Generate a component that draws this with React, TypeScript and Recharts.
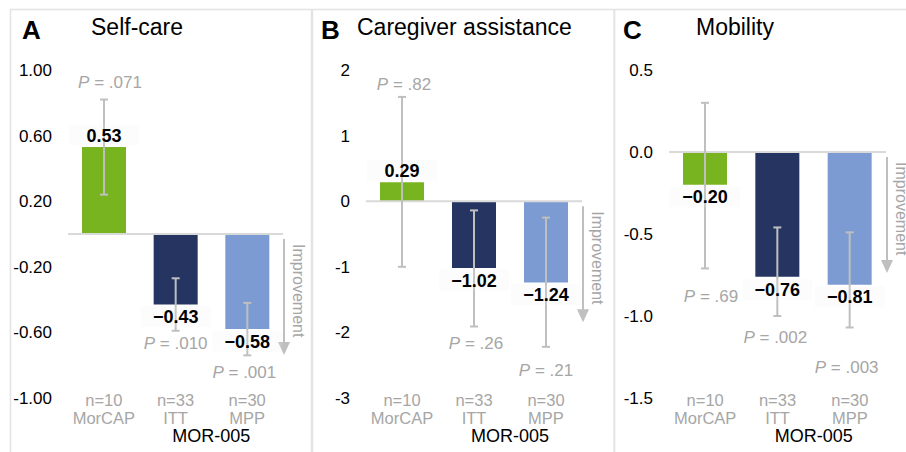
import React from 'react';
import { BarChart, Bar, XAxis, YAxis, ReferenceLine, ErrorBar, Cell } from 'recharts';

// shared categories
const categories = ['MorCAP', 'ITT', 'MPP'];
const sampleSizes = ['n=10', 'n=33', 'n=30'];
const groupLabel = 'MOR-005';

// A: self-care
const selfCareValues = [0.53, -0.43, -0.58];
const selfCareLow = [0.24, -0.59, -0.74];
const selfCareHigh = [0.82, -0.27, -0.42];
const selfCareP = ['.071', '.010', '.001'];
const selfCareTicks = [-1, -0.6, -0.2, 0.2, 0.6, 1];

// B: caregiver assistance
const caregiverValues = [0.29, -1.02, -1.24];
const caregiverLow = [-1.0, -1.91, -2.22];
const caregiverHigh = [1.59, -0.14, -0.25];
const caregiverP = ['.82', '.26', '.21'];
const caregiverTicks = [-3, -2, -1, 0, 1, 2];

// C: mobility
const mobilityValues = [-0.2, -0.76, -0.81];
const mobilityLow = [-0.71, -1.0, -1.07];
const mobilityHigh = [0.3, -0.46, -0.49];
const mobilityP = ['.69', '.002', '.003'];
const mobilityTicks = [-1.5, -1, -0.5, 0, 0.5];

const barColors = ['#78b41f', '#253461', '#7b9bd2'];
const GRAY = '#a6a6a6';
const LINE = '#bfbfbf';
const FONT = '"Liberation Sans", Arial, sans-serif';

type PLayout = { side: 'top' | 'bottom'; gap: number; dx: number };

interface PanelProps {
  left: number;
  width: number;
  margin: { top: number; right: number; bottom: number; left: number };
  yWidth: number;
  values: number[];
  low: number[];
  high: number[];
  pvals: string[];
  ticks: number[];
  tickFmt: (v: number) => string;
  valueGap: number[];
  pLayout: PLayout[];
}

const fmtValue = (v: number) => (v < 0 ? '\u2212' : '') + Math.abs(v).toFixed(2);

const Improvement = ({ viewBox }: any) => {
  if (!viewBox) return null;
  const x = viewBox.x + viewBox.width + 1;
  const y = viewBox.y;
  return (
    <g>
      <line x1={x} y1={y + 5} x2={x} y2={y + 112} stroke={LINE} strokeWidth={2} />
      <path d={`M${x - 6},${y + 108} L${x + 6},${y + 108} L${x},${y + 121} Z`} fill={LINE} />
      <text
        x={x + 9}
        y={y + 10}
        transform={`rotate(90, ${x + 9}, ${y + 10})`}
        fontSize={16}
        fill={GRAY}
        textAnchor="start"
      >
        Improvement
      </text>
    </g>
  );
};

const Panel: React.FC<PanelProps> = (p) => {
  const rows = categories.map((name, i) => ({
    name,
    value: p.values[i],
    err: [p.values[i] - p.low[i], p.high[i] - p.values[i]],
  }));
  const band = (p.width - p.margin.left - p.margin.right - p.yWidth) / categories.length;

  const renderLabel = (props: any) => {
    const { x, y, width, height, index } = props;
    const v = p.values[index];
    const top = Math.min(y, y + height);
    const bottom = Math.max(y, y + height);
    const k = (bottom - top) / Math.abs(v);
    const zeroY = v >= 0 ? bottom : top;
    const py = (d: number) => zeroY - d * k;
    const cx = x + width / 2;
    const gap = p.valueGap[index];
    const ty = v >= 0 ? py(v) - gap : py(v) + gap;
    const pl = p.pLayout[index];
    const pyLabel = pl.side === 'top' ? py(p.high[index]) - pl.gap : py(p.low[index]) + pl.gap;
    return (
      <g>
        <rect x={cx - 35} y={ty - 10.5} width={70} height={21} fill="#ececec" fillOpacity={0.18} />
        <text x={cx} y={ty} dy="0.36em" textAnchor="middle" fontWeight="bold" fontSize={18} fill="#000">
          {fmtValue(v)}
        </text>
        <text x={cx + pl.dx} y={pyLabel} dy="0.36em" textAnchor="middle" fontSize={17} fill={GRAY}>
          <tspan fontStyle="italic">P</tspan> = {p.pvals[index]}
        </text>
      </g>
    );
  };

  const renderTick = (props: any) => {
    const { x, y, payload, index } = props;
    return (
      <g>
        <text x={x} y={y + 8} textAnchor="middle" fontSize={16.5} fill={GRAY}>
          {sampleSizes[index]}
        </text>
        <text x={x} y={y + 25.5} textAnchor="middle" fontSize={16.5} fill={GRAY}>
          {payload.value}
        </text>
        {index === 1 && (
          <text x={x + band / 2} y={y + 44} textAnchor="middle" fontSize={18} fill="#000">
            {groupLabel}
          </text>
        )}
      </g>
    );
  };

  return (
    <div style={{ position: 'absolute', left: p.left, top: 0 }}>
      <BarChart width={p.width} height={452} data={rows} margin={p.margin}>
        <XAxis
          dataKey="name"
          axisLine={false}
          tickLine={false}
          tickSize={0}
          tickMargin={0}
          height={40}
          interval={0}
          tick={renderTick}
        />
        <YAxis
          type="number"
          domain={[p.ticks[0], p.ticks[p.ticks.length - 1]]}
          ticks={p.ticks}
          interval={0}
          width={p.yWidth}
          axisLine={false}
          tickLine={false}
          tickSize={0}
          tickMargin={16}
          tickFormatter={p.tickFmt}
          tick={{ fill: '#000', fontSize: 17 }}
        />
        <ReferenceLine y={0} stroke="#d9d9d9" strokeWidth={2} label={<Improvement />} />
        <Bar dataKey="value" barSize={44} isAnimationActive={false} label={renderLabel}>
          {rows.map((r, i) => (
            <Cell key={r.name} fill={barColors[i]} />
          ))}
          <ErrorBar dataKey="err" width={4} strokeWidth={2} stroke={LINE} direction="y" isAnimationActive={false} />
        </Bar>
      </BarChart>
    </div>
  );
};

const titles = [
  { letter: 'A', lx: 22, name: 'Self-care', nx: 91 },
  { letter: 'B', lx: 321, name: 'Caregiver assistance', nx: 357 },
  { letter: 'C', lx: 623, name: 'Mobility', nx: 696 },
];

export default function App() {
  return (
    <div style={{ position: 'relative', width: 906, height: 452, overflow: 'hidden', background: '#fff', fontFamily: FONT }}>
      <style>{'body{margin:0}'}</style>
      <Panel
        left={0}
        width={310}
        margin={{ top: 70, right: 27, bottom: 14, left: 8 }}
        yWidth={60}
        values={selfCareValues}
        low={selfCareLow}
        high={selfCareHigh}
        pvals={selfCareP}
        ticks={selfCareTicks}
        tickFmt={(v) => v.toFixed(2)}
        valueGap={[12, 12, 12]}
        pLayout={[
          { side: 'top', gap: 18, dx: 6 },
          { side: 'bottom', gap: 12, dx: 0 },
          { side: 'bottom', gap: 17, dx: -3 },
        ]}
      />
      <Panel
        left={313}
        width={300}
        margin={{ top: 70, right: 31, bottom: 14, left: 3 }}
        yWidth={50}
        values={caregiverValues}
        low={caregiverLow}
        high={caregiverHigh}
        pvals={caregiverP}
        ticks={caregiverTicks}
        tickFmt={(v) => String(v)}
        valueGap={[12, 12, 12]}
        pLayout={[
          { side: 'top', gap: 13, dx: 2 },
          { side: 'bottom', gap: 16, dx: 2 },
          { side: 'bottom', gap: 23, dx: 0 },
        ]}
      />
      <Panel
        left={616}
        width={290}
        margin={{ top: 70, right: 20, bottom: 14, left: 3 }}
        yWidth={50}
        values={mobilityValues}
        low={mobilityLow}
        high={mobilityHigh}
        pvals={mobilityP}
        ticks={mobilityTicks}
        tickFmt={(v) => v.toFixed(1)}
        valueGap={[12, 13, 12]}
        pLayout={[
          { side: 'bottom', gap: 27, dx: 6 },
          { side: 'bottom', gap: 21, dx: -2 },
          { side: 'bottom', gap: 39, dx: -3 },
        ]}
      />
      <svg width={906} height={452} style={{ position: 'absolute', left: 0, top: 0, pointerEvents: 'none' }}>
        <line x1={10} y1={9.5} x2={906} y2={9.5} stroke="#e3e3e3" strokeWidth={1.5} />
        <line x1={10.5} y1={9} x2={10.5} y2={452} stroke="#e3e3e3" strokeWidth={1.5} />
        <line x1={312} y1={9} x2={312} y2={452} stroke="#e3e3e3" strokeWidth={2.5} />
        <line x1={614.3} y1={9} x2={614.3} y2={452} stroke="#e3e3e3" strokeWidth={2} />
        {titles.map((t) => (
          <g key={t.letter}>
            <text x={t.lx} y={39} fontSize={26} fontWeight="bold" fill="#000">
              {t.letter}
            </text>
            <text x={t.nx} y={35} fontSize={23} fill="#000">
              {t.name}
            </text>
          </g>
        ))}
      </svg>
    </div>
  );
}
